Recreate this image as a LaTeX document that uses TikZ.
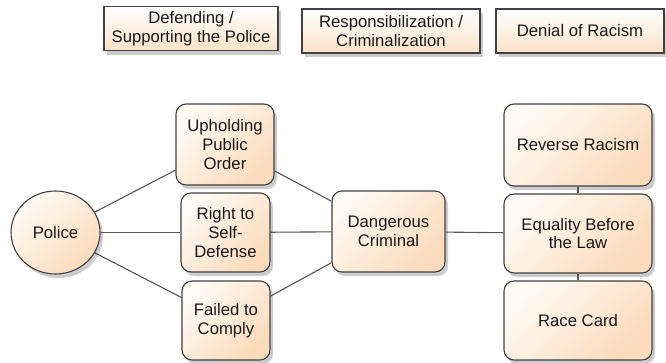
\documentclass[tikz,border=0pt]{standalone}
\usepackage{fontspec}
\setmainfont{Liberation Sans}
\usepackage{tikz}
\usetikzlibrary{shapes.geometric,shadows}
\definecolor{peachlo}{RGB}{255,250,244}
\definecolor{peachhi}{RGB}{251,219,187}
\definecolor{edgegray}{RGB}{85,85,85}

\begin{document}
\begin{tikzpicture}[x=1pt,y=-1pt,font=\fontsize{16.7}{18.6}\selectfont]
    		\tikzstyle{box}=[draw=black!75,line width=1.1pt,align=center,inner sep=0pt,text=black!90,
    		  shading=axis,top color=peachlo,bottom color=peachhi,shading angle=45,
    		  drop shadow={shadow xshift=3pt,shadow yshift=-4pt,opacity=0.2,fill=black}]
    		\tikzstyle{concept}=[box,rounded corners=10pt]
    		\tikzstyle{category}=[box,top color=white,bottom color=peachhi!80,minimum height=44pt]
    		\tikzstyle{actor}=[box,ellipse,minimum width=89pt,minimum height=83pt]
    		\tikzstyle{link}=[draw=edgegray,line width=1.1pt]

    		\useasboundingbox (0,0) rectangle (666,362);

    		% legend
    		\node[category,minimum width=174pt] (Cat-1) at (191,28.5) {Defending /\\Supporting the Police};
    		\node[category,minimum width=178pt] (Cat-2) at (391,31) {Responsibilization /\\Criminalization};
    		\node[category,minimum width=168pt] (Cat-3) at (580,31) {Denial of Racism};

    		\node[actor] (Police) at (55.5,232.5) {Police};

    		\node[concept,minimum width=98pt,minimum height=81pt] (Def-1) at (225,144.5) {Upholding\\Public\\Order};
    		\node[concept,minimum width=89pt,minimum height=79pt] (Def-2) at (225.5,232.5) {Right to\\Self-\\Defense};
    		\node[concept,minimum width=88pt,minimum height=79pt] (Def-3) at (226,320.5) {Failed to\\Comply};

    		\node[concept,minimum width=113pt,minimum height=81pt] (Crim-1) at (388.5,231.5) {Dangerous\\Criminal};

    		\node[concept,minimum width=148pt,minimum height=82pt] (Den-1) at (578,145) {Reverse Racism};
    		\node[concept,minimum width=148pt,minimum height=79pt] (Den-2) at (578,233.5) {Equality Before\\the Law};
    		\node[concept,minimum width=148pt,minimum height=79pt] (Den-3) at (578,320.5) {Race Card};

    		\foreach \d in {1,2,3} {
    		  \draw[link] (Police) -- (Def-\d);
    		  \draw[link] (Def-\d) -- (Crim-1);
    		}
    		\draw[link] (Crim-1) -- (Den-2);
    		\draw[link] (Den-1) -- (Den-2);
    		\draw[link] (Den-2) -- (Den-3);

    	\end{tikzpicture}
\end{document}
